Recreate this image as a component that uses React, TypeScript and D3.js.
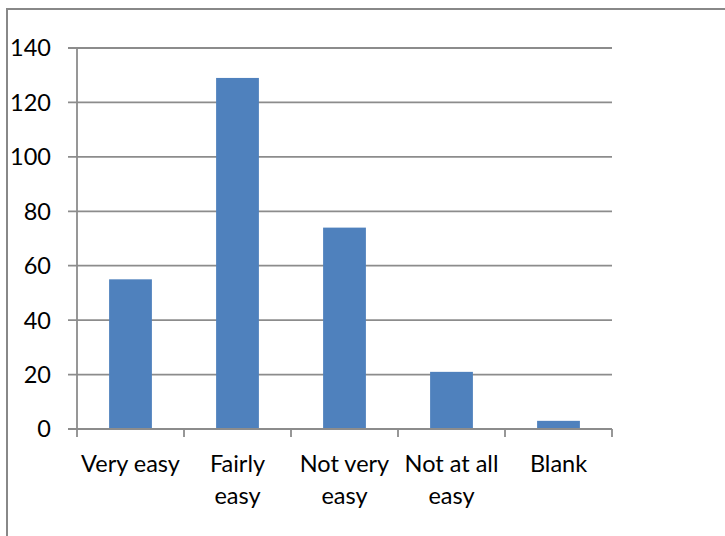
import React from "react";
import * as d3 from "d3";

const categories = ["Very easy", "Fairly easy", "Not very easy", "Not at all easy", "Blank"];
const categoryLines = [["Very easy"], ["Fairly", "easy"], ["Not very", "easy"], ["Not at all", "easy"], ["Blank"]];
const values = [55, 129, 74, 21, 3];
const yTicks = [0, 20, 40, 60, 80, 100, 120, 140];

export default function App() {
  const W = 725, H = 536;
  const left = 77, right = 612, top = 48, bottom = 429;
  const x = d3.scaleBand<string>().domain(categories).range([left, right]).paddingInner(0.6).paddingOuter(0.3);
  const xb = d3.scaleBand<string>().domain(categories).range([left, right]);
  const y = d3.scaleLinear().domain([0, 140]).range([bottom, top]);
  const font = "Lato, 'Open Sans', sans-serif";
  const grid = "#8c8c8c";
  return (
    <svg width={W} height={H} style={{ position: "absolute", left: 0, top: 0, background: "#fff" }}>
      <rect x={7} y={9} width={W + 20} height={H + 20} fill="#fff" stroke="#888" strokeWidth={2} />
      {yTicks.map((t) => (
        <g key={t}>
          <line x1={68} x2={right} y1={y(t)} y2={y(t)} stroke={grid} strokeWidth={1.8} />
          <text x={51} y={y(t)} dy="0.36em" textAnchor="end" fontFamily={font} fontSize={23.5} fill="#000">{t}</text>
        </g>
      ))}
      <line x1={left} x2={left} y1={top} y2={bottom + 8} stroke={grid} strokeWidth={1.8} />
      {categories.map((c) => (
        <line key={c} x1={(xb(c) as number) + xb.bandwidth()} x2={(xb(c) as number) + xb.bandwidth()} y1={bottom} y2={bottom + 8} stroke={grid} strokeWidth={1.8} />
      ))}
      {categories.map((c, i) => (
        <rect key={c} x={x(c)} y={y(values[i])} width={x.bandwidth()} height={y(0) - y(values[i])} fill="#4f81bd" />
      ))}
      <line x1={left} x2={right} y1={bottom} y2={bottom} stroke={grid} strokeWidth={1.8} />
      {categories.map((c, i) => (
        <text key={c} textAnchor="middle" fontFamily={font} fontSize={23.5} fill="#000">
          {categoryLines[i].map((l, j) => (
            <tspan key={j} x={(xb(c) as number) + xb.bandwidth() / 2} y={472 + j * 32}>{l}</tspan>
          ))}
        </text>
      ))}
    </svg>
  );
}
